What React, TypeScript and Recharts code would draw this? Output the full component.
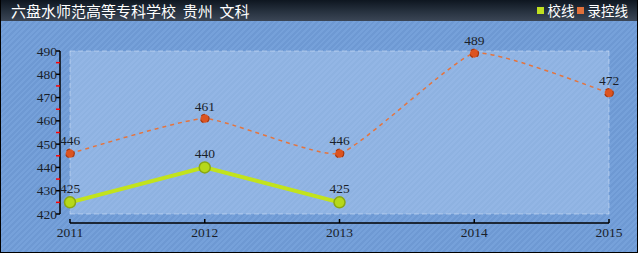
import { LineChart, Line, XAxis, YAxis, CartesianGrid, LabelList } from "recharts";

const TITLE = "六盘水师范高等专科学校 贵州 文科";
const YEARS = ["2011", "2012", "2013", "2014", "2015"];
const SCHOOL_LINE = [425, 440, 425, null, null];
const CONTROL_LINE = [446, 461, 446, 489, 472];
const SERIES_NAMES = ["校线", "录控线"];
const Y_TICKS = [420, 425, 430, 435, 440, 445, 450, 455, 460, 465, 470, 475, 480, 485, 490];
const GRID_TICKS = [420, 430, 440, 450, 460, 470, 480, 490];

const data = YEARS.map((year, i) => ({
  year,
  school: SCHOOL_LINE[i],
  control: CONTROL_LINE[i],
}));

const SERIF = "'Liberation Serif', 'DejaVu Serif', serif";

// light cardinal smoothing, like the original's dashed line
const softCurve = (tension: number) => (ctx: any) => {
  let pts: number[][] = [];
  const k = (1 - tension) / 6;
  return {
    areaStart() {},
    areaEnd() {},
    lineStart() {
      pts = [];
    },
    point(x: number, y: number) {
      pts.push([+x, +y]);
    },
    lineEnd() {
      const n = pts.length;
      if (!n) return;
      ctx.moveTo(pts[0][0], pts[0][1]);
      for (let i = 0; i < n - 1; i++) {
        const p0 = pts[Math.max(i - 1, 0)];
        const p1 = pts[i];
        const p2 = pts[i + 1];
        const p3 = pts[Math.min(i + 2, n - 1)];
        ctx.bezierCurveTo(
          p1[0] + k * (p2[0] - p0[0]),
          p1[1] + k * (p2[1] - p0[1]),
          p2[0] - k * (p3[0] - p1[0]),
          p2[1] - k * (p3[1] - p1[1]),
          p2[0],
          p2[1]
        );
      }
    },
  };
};

const YTick = (props: any) => {
  const { x, y, payload } = props;
  const major = payload.value % 10 === 0;
  return (
    <g>
      <line x1={x - 4} x2={x} y1={y} y2={y} stroke={major ? "#000" : "#ff0000"} strokeWidth={1.5} />
      {major && (
        <text x={x - 3} y={y + 4.5} textAnchor="end" fontSize={13.5} fontFamily={SERIF} fill="#1a1f2a">
          {payload.value}
        </text>
      )}
    </g>
  );
};

const XTick = (props: any) => {
  const { x, y, payload } = props;
  return (
    <g>
      <line x1={x} x2={x} y1={y - 4} y2={y} stroke="#000" strokeWidth={1.5} />
      <text x={x} y={y + 14} textAnchor="middle" fontSize={13.5} fontFamily={SERIF} fill="#1a1f2a">
        {payload.value}
      </text>
    </g>
  );
};

const labelStyle = { fontSize: 13.5, fontFamily: SERIF, fill: "#1a1f2a" };

export default function App() {
  return (
    <div
      style={{
        position: "fixed",
        left: 0,
        top: 0,
        width: 638,
        height: 253,
        boxSizing: "border-box",
        borderLeft: "1px solid #000",
        borderRight: "1px solid #000",
        borderBottom: "1px solid #000",
        background: "repeating-linear-gradient(135deg, #76a1da 0px, #76a1da 2px, #6e99d3 2px, #6e99d3 4px)",
        overflow: "hidden",
      }}
    >
      <div style={{ position: "absolute", left: -1, top: 0 }}>
        <LineChart width={638} height={253} data={data} margin={{ top: 51, right: 29, left: 0, bottom: 0 }}>
          <CartesianGrid
            xAxisId="inner"
            yAxisId="inner"
            fill="rgba(195,218,246,0.38)"
            stroke="rgba(230,240,255,0.45)"
            strokeDasharray="5 3"
          />
          <XAxis xAxisId="inner" dataKey="year" height={9} axisLine={false} tickLine={false} tick={false} />
          <XAxis
            xAxisId="outer"
            dataKey="year"
            height={30}
            axisLine={{ stroke: "#000", strokeWidth: 1.5 }}
            tickLine={false}
            tickSize={0}
            tickMargin={0}
            tick={<XTick />}
            interval={0}
          />
          <YAxis yAxisId="inner" width={10} domain={[420, 490]} ticks={GRID_TICKS} axisLine={false} tickLine={false} tick={false} />
          <YAxis
            yAxisId="outer"
            width={60}
            domain={[420, 490]}
            ticks={Y_TICKS}
            interval={0}
            minTickGap={0}
            axisLine={{ stroke: "#000", strokeWidth: 1.5 }}
            tickLine={false}
            tickSize={0}
            tickMargin={0}
            tick={<YTick />}
          />
          <Line
            xAxisId="inner"
            yAxisId="outer"
            type={softCurve(0.55) as any}
            dataKey="control"
            name={SERIES_NAMES[1]}
            stroke="#e4743e"
            strokeWidth={1.5}
            strokeDasharray="4 4"
            dot={{ r: 4.3, fill: "#dc5420", stroke: "#a8380e", strokeWidth: 1.2 }}
            isAnimationActive={false}
          >
            <LabelList dataKey="control" position="top" offset={8} style={labelStyle} />
          </Line>
          <Line
            xAxisId="inner"
            yAxisId="inner"
            type="linear"
            dataKey="school"
            name={SERIES_NAMES[0]}
            stroke="#c2e31c"
            strokeWidth={4}
            dot={{ r: 5.5, fill: "#b6d81a", stroke: "#8aa812", strokeWidth: 1.5 }}
            connectNulls={false}
            isAnimationActive={false}
          >
            <LabelList dataKey="school" position="top" offset={9} style={labelStyle} />
          </Line>
        </LineChart>
      </div>
      <div
        style={{
          position: "absolute",
          left: -1,
          top: 0,
          width: 638,
          height: 21,
          background: "linear-gradient(#0e1620, #27323f 55%, #3b4656)",
          color: "#fff",
          fontFamily: "'Noto Sans CJK SC', sans-serif",
          fontSize: 15,
          lineHeight: "21px",
        }}
      >
        <span style={{ position: "absolute", left: 11, top: 0, whiteSpace: "pre" }}>{TITLE.split(" ").join("  ")}</span>
        <div style={{ position: "absolute", right: 10, top: 0, display: "flex", alignItems: "center", height: 21, fontSize: 13.5 }}>
          {SERIES_NAMES.map((name, i) => (
            <span key={name} style={{ display: "flex", alignItems: "center", marginLeft: 2 }}>
              <span style={{ width: 7, height: 7, background: i === 0 ? "#c0e020" : "#e0703a", marginRight: 4 }} />
              {name}
            </span>
          ))}
        </div>
      </div>
    </div>
  );
}
